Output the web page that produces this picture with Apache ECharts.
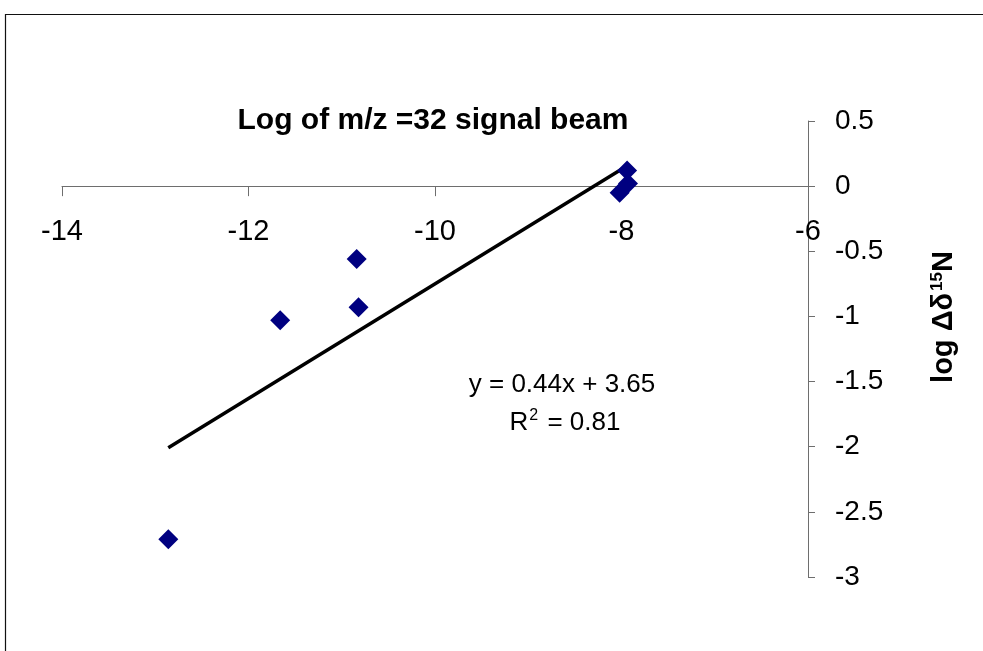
<!DOCTYPE html>
<html>
<head>
<meta charset="utf-8">
<script src="https://cdn.jsdelivr.net/npm/echarts@6/dist/echarts.min.js"></script>
<style>
  html, body { margin: 0; padding: 0; background: #fff; }
  #chart { width: 983px; height: 651px; }
</style>
</head>
<body>
<div id="chart"></div>
<script>
// Measured beam signal (log) against log of the delta-15N shift
const beamLog = [-12.86, -11.66, -10.84, -10.82, -8.02, -7.93, -7.94];
const deltaLog = [-2.71, -1.03, -0.56, -0.93, -0.05, 0.02, 0.12];

// Least-squares fit as printed on the chart
const fitSlope = 0.44;
const fitIntercept = 3.65;
const fitR2 = 0.81;

// Axis ticks
const xTicks = [-14, -12, -10, -8, -6];
const yTicks = [0.5, 0, -0.5, -1, -1.5, -2, -2.5, -3];

const FONT = "'Liberation Sans', Arial, sans-serif";

const points = beamLog.map((x, i) => [x, deltaLog[i]]);
const xLo = Math.min(...beamLog);
const xHi = Math.max(...beamLog);
const fitLine = [xLo, xHi].map(x => [x, fitSlope * x + fitIntercept]);

// Plot area
const GRID = { left: 62, right: 175, top: 121, bottom: 74 };
const plotH = 651 - GRID.top - GRID.bottom;
const yMin = yTicks[yTicks.length - 1];
const yMax = yTicks[0];
// The horizontal axis (line, ticks and labels) crosses at y = 0
const xAxisShift = -plotH * (0 - yMin) / (yMax - yMin);

const chart = echarts.init(document.getElementById('chart'), null, { renderer: 'canvas' });

chart.setOption({
  backgroundColor: '#fff',
  animation: false,
  title: {
    text: 'Log of m/z =32 signal beam',
    left: 433,
    top: 106,
    textAlign: 'center',
    padding: 0,
    textStyle: { fontFamily: FONT, fontSize: 30, fontWeight: 'bold', color: '#000' }
  },
  grid: Object.assign({ containLabel: false }, GRID),
  xAxis: {
    type: 'value',
    position: 'bottom',
    offset: xAxisShift,
    min: xTicks[0],
    max: xTicks[xTicks.length - 1],
    interval: xTicks[1] - xTicks[0],
    splitLine: { show: false },
    axisLine: { onZero: false, lineStyle: { color: '#6e6e6e', width: 1 } },
    axisTick: { length: 10, lineStyle: { color: '#6e6e6e' } },
    axisLabel: { margin: 31, color: '#000', fontFamily: FONT, fontSize: 29 }
  },
  yAxis: {
    type: 'value',
    position: 'right',
    min: yMin,
    max: yMax,
    interval: yTicks[0] - yTicks[1],
    splitLine: { show: false },
    axisLine: { show: true, onZero: false, lineStyle: { color: '#6e6e6e', width: 1 } },
    axisTick: { show: true, length: 7, lineStyle: { color: '#6e6e6e' } },
    axisLabel: { margin: 27, color: '#000', fontFamily: FONT, fontSize: 28 }
  },
  series: [
    {
      type: 'line',
      data: fitLine,
      showSymbol: false,
      lineStyle: { color: '#000', width: 3.5 },
      z: 3
    },
    {
      type: 'scatter',
      data: points,
      symbol: 'diamond',
      symbolSize: 20,
      itemStyle: { color: '#000080', opacity: 1 },
      z: 4
    }
  ],
  graphic: [
    {
      type: 'rect',
      shape: { x: 5.5, y: 14.5, width: 1100, height: 800 },
      style: { fill: 'none', stroke: '#111', lineWidth: 1.2 },
      silent: true
    },
    {
      type: 'text',
      x: 562,
      y: 385,
      style: {
        text: 'y = ' + fitSlope.toFixed(2) + 'x + ' + fitIntercept.toFixed(2),
        font: '26px ' + FONT,
        fill: '#000',
        align: 'center',
        verticalAlign: 'middle'
      }
    },
    {
      type: 'text',
      x: 565,
      y: 423,
      style: {
        text: '{b|R}{s|2}{b| = ' + fitR2.toFixed(2) + '}',
        align: 'center',
        verticalAlign: 'middle',
        rich: {
          b: { fontFamily: FONT, fontSize: 26, fill: '#000', color: '#000' },
          s: { fontFamily: FONT, fontSize: 16, color: '#000', padding: [0, 2, 14, 1] }
        }
      }
    },
    {
      type: 'text',
      x: 944,
      y: 317,
      rotation: Math.PI / 2,
      style: {
        text: '{b|log Δδ}{s|15}{b|N}',
        align: 'center',
        verticalAlign: 'middle',
        rich: {
          b: { fontFamily: FONT, fontSize: 29, fontWeight: 'bold', color: '#000' },
          s: { fontFamily: FONT, fontSize: 17, fontWeight: 'bold', color: '#000', padding: [0, 0, 14, 2] }
        }
      }
    }
  ]
});
</script>
</body>
</html>
